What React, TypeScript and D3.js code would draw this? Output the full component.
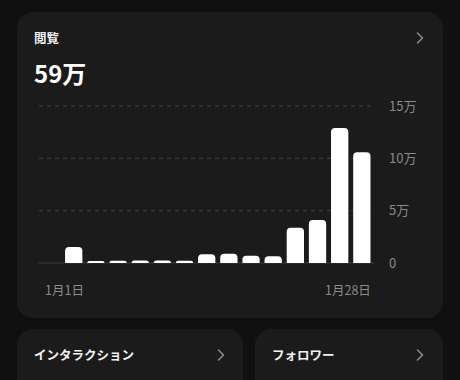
import React from "react";
import * as d3 from "d3";

const categories = ["1/1","1/3","1/5","1/7","1/9","1/11","1/13","1/15","1/17","1/19","1/21","1/23","1/25","1/27","1/28"];
const values = [0, 15300, 2000, 2200, 2500, 2500, 2200, 8300, 8900, 7000, 6400, 33700, 41100, 129000, 105800];
const yTicks = [0, 50000, 100000, 150000];
const yTickLabels = ["0", "5万", "10万", "15万"];
const xLabels = ["1月1日", "1月28日"];
const title = "閲覧";
const total = "59万";
const cardTitles = ["インタラクション", "フォロワー"];

const W = 460, H = 380;
const FONT = "'Noto Sans CJK JP', 'Noto Sans', sans-serif";

function Chevron({ x, y }: { x: number; y: number }) {
  return (
    <path d={`M${x - 2.5},${y - 5} L${x + 2.5},${y} L${x - 2.5},${y + 5}`} fill="none" stroke="#8a8a8a" strokeWidth={1.6} strokeLinecap="round" strokeLinejoin="round" />
  );
}

function topRounded(x: number, y: number, w: number, h: number, r: number) {
  const rr = Math.min(r, w / 2, h);
  if (h <= 0) return "";
  return `M${x},${y + h} L${x},${y + rr} Q${x},${y} ${x + rr},${y} L${x + w - rr},${y} Q${x + w},${y} ${x + w},${y + rr} L${x + w},${y + h} Z`;
}

export default function App() {
  const x = d3.scaleBand<string>().domain(categories).range([40.7, 372.7]).paddingInner(0.22).paddingOuter(0.1);
  const y = d3.scaleLinear().domain([0, 150000]).range([263, 106]);
  const bw = x.bandwidth();
  return (
    <svg width={W} height={H} style={{ position: "fixed", left: 0, top: 0, display: "block" }} fontFamily={FONT}>
      <rect x={0} y={0} width={W} height={H} fill="#101010" />
      <rect x={17} y={12} width={426} height={306} rx={16} fill="#1b1b1b" />
      <rect x={17} y={329} width={226} height={80} rx={16} fill="#1b1b1b" />
      <rect x={255} y={329} width={188} height={80} rx={16} fill="#1b1b1b" />

      <text x={34} y={43} fill="#f2f2f2" fontSize={12.5} fontWeight={700}>{title}</text>
      <Chevron x={420} y={38} />
      <text x={34} y={83} fill="#ffffff" fontSize={24} fontWeight={700}>{total}</text>

      {yTicks.map((t, i) => (
        <g key={t}>
          {t !== 0 && (
            <line x1={39} x2={374} y1={y(t)} y2={y(t)} stroke="#424242" strokeWidth={1} strokeDasharray="4,4" />
          )}
          <text x={389} y={y(t)} dy="0.36em" fill="#8a8a8a" fontSize={13}>{yTickLabels[i]}</text>
        </g>
      ))}
      <line x1={38} x2={374} y1={y(0)} y2={y(0)} stroke="#3a3a3a" strokeWidth={1.2} />

      {values.map((v, i) => {
        const h = y(0) - y(v);
        if (h <= 0) return null;
        return <path key={i} d={topRounded(x(categories[i])!, y(v), bw, h, 4)} fill="#ffffff" />;
      })}

      <text x={45} y={290} dy="0.36em" fill="#8a8a8a" fontSize={12.5}>{xLabels[0]}</text>
      <text x={325} y={290} dy="0.36em" fill="#8a8a8a" fontSize={12.5}>{xLabels[1]}</text>

      <text x={34} y={355} dy="0.36em" fill="#f2f2f2" fontSize={12.5} fontWeight={700}>{cardTitles[0]}</text>
      <Chevron x={221} y={355} />
      <text x={272} y={355} dy="0.36em" fill="#f2f2f2" fontSize={12.5} fontWeight={700}>{cardTitles[1]}</text>
      <Chevron x={420} y={355} />
    </svg>
  );
}
